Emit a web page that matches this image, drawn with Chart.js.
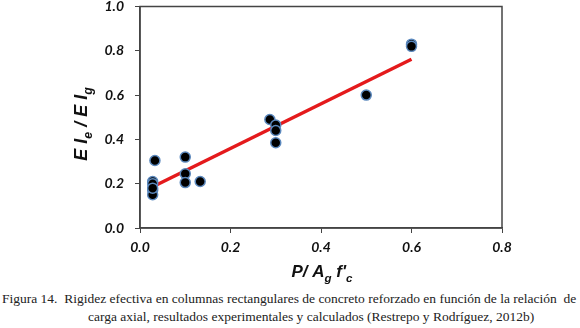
<!DOCTYPE html>
<html>
<head>
<meta charset="utf-8">
<script src="https://cdn.jsdelivr.net/npm/chart.js@4"></script>
<style>
    body { margin: 0; background: #fff; }
    #wrap { position: relative; width: 580px; height: 328px; }
    #chart { position: absolute; left: 0; top: 0; }
    .caption { position: absolute; font-family: "Liberation Serif", "Times New Roman", serif; font-size: 13.5px; color: #222; white-space: nowrap; }
</style>
</head>
<body>
<div id="wrap">
    <canvas id="chart" width="580" height="288"></canvas>
    <div class="caption" style="left:2px; top:291px;">Figura 14.&nbsp; Rigidez efectiva en columnas rectangulares de concreto reforzado en función de la relación&nbsp; de</div>
    <div class="caption" style="left:88px; top:309px;">carga axial, resultados experimentales y calculados (Restrepo y Rodríguez, 2012b)</div>
</div>
<script>
// experimental points (P/Ag f'c, EIe/EIg)
const pointsX = [0.028, 0.028, 0.028, 0.028, 0.028, 0.033, 0.10, 0.10, 0.10, 0.133, 0.287, 0.30, 0.30, 0.30, 0.50, 0.60, 0.60];
const pointsY = [0.21, 0.20, 0.17, 0.15, 0.18, 0.305, 0.32, 0.245, 0.205, 0.21, 0.49, 0.465, 0.44, 0.385, 0.60, 0.83, 0.82];

// calculated trend line
const trendX = [0.035, 0.60];
const trendY = [0.193, 0.762];

const xTicks = [0.0, 0.2, 0.4, 0.6, 0.8];
const yTicks = [0.0, 0.2, 0.4, 0.6, 0.8, 1.0];

const tickFont = { family: 'Lato', size: 14, weight: 'bold', style: 'italic' };

// draws text runs with subscripts along the baseline
function drawRuns(ctx, runs, x, y, size) {
    let cx = x;
    runs.forEach(r => {
        const s = r.sub ? size * 0.68 : size;
        ctx.font = 'italic bold ' + s + 'px "Liberation Sans", Arial, sans-serif';
        ctx.fillText(r.t, cx, y + (r.sub ? size * 0.28 : 0));
        cx += ctx.measureText(r.t).width;
    });
    return cx - x;
}

function runsWidth(ctx, runs, size) {
    let w = 0;
    runs.forEach(r => {
        const s = r.sub ? size * 0.68 : size;
        ctx.font = 'italic bold ' + s + 'px "Liberation Sans", Arial, sans-serif';
        w += ctx.measureText(r.t).width;
    });
    return w;
}

const titlesPlugin = {
    id: 'titles',
    afterDraw(chart) {
        const ctx = chart.ctx;
        const a = chart.chartArea;
        ctx.save();
        // frame on all four sides
        ctx.strokeStyle = '#444';
        ctx.lineWidth = 1.5;
        ctx.strokeRect(a.left, a.top, a.right - a.left, a.bottom - a.top);

        ctx.fillStyle = '#111';
        ctx.textBaseline = 'alphabetic';

        const xRuns = [{ t: 'P/ A' }, { t: 'g', sub: true }, { t: ' f\'' }, { t: 'c', sub: true }];
        const xw = runsWidth(ctx, xRuns, 17);
        drawRuns(ctx, xRuns, 322 - xw / 2, 277, 17);

        const yRuns = [{ t: 'E I' }, { t: 'e', sub: true }, { t: ' / E I' }, { t: 'g', sub: true }];
        const yw = runsWidth(ctx, yRuns, 18);
        ctx.translate(87, 124);
        ctx.rotate(-Math.PI / 2);
        drawRuns(ctx, yRuns, -yw / 2, 0, 18);
        ctx.restore();
    }
};

new Chart(document.getElementById('chart').getContext('2d'), {
    type: 'scatter',
    data: {
        datasets: [{
            label: 'Experimental',
            data: pointsX.map((x, i) => ({ x: x, y: pointsY[i] })),
            backgroundColor: '#000',
            borderColor: '#5b88bd',
            borderWidth: 1.5,
            pointRadius: 5
        }, {
            label: 'Calculado',
            data: trendX.map((x, i) => ({ x: x, y: trendY[i] })),
            showLine: true,
            borderColor: '#e41a1c',
            borderWidth: 3.5,
            pointRadius: 0
        }]
    },
    options: {
        responsive: false,
        animation: false,
        layout: { padding: { left: 0, top: 5, right: 78, bottom: 0 } },
        scales: {
            x: {
                type: 'linear',
                min: 0, max: 0.8,
                afterBuildTicks: s => { s.ticks = xTicks.map(v => ({ value: v })); },
                afterFit: s => { s.height = 60; s.paddingLeft = 0; s.paddingRight = 0; },
                grid: { drawOnChartArea: false, drawTicks: true, tickLength: 5, color: '#444' },
                border: { color: '#444', width: 1.5 },
                ticks: { font: tickFont, color: '#111', padding: 6, maxRotation: 0, callback: v => v.toFixed(1) }
            },
            y: {
                type: 'linear',
                min: 0, max: 1.0,
                afterBuildTicks: s => { s.ticks = yTicks.map(v => ({ value: v })); },
                afterFit: s => { s.width = 140; s.paddingTop = 0; s.paddingBottom = 0; },
                grid: { drawOnChartArea: false, drawTicks: true, tickLength: 5, color: '#444' },
                border: { color: '#444', width: 1.5 },
                ticks: { font: tickFont, color: '#111', padding: 11, callback: v => v.toFixed(1) }
            }
        },
        plugins: {
            legend: { display: false },
            tooltip: { enabled: false }
        }
    },
    plugins: [titlesPlugin]
});
</script>
</body>
</html>
